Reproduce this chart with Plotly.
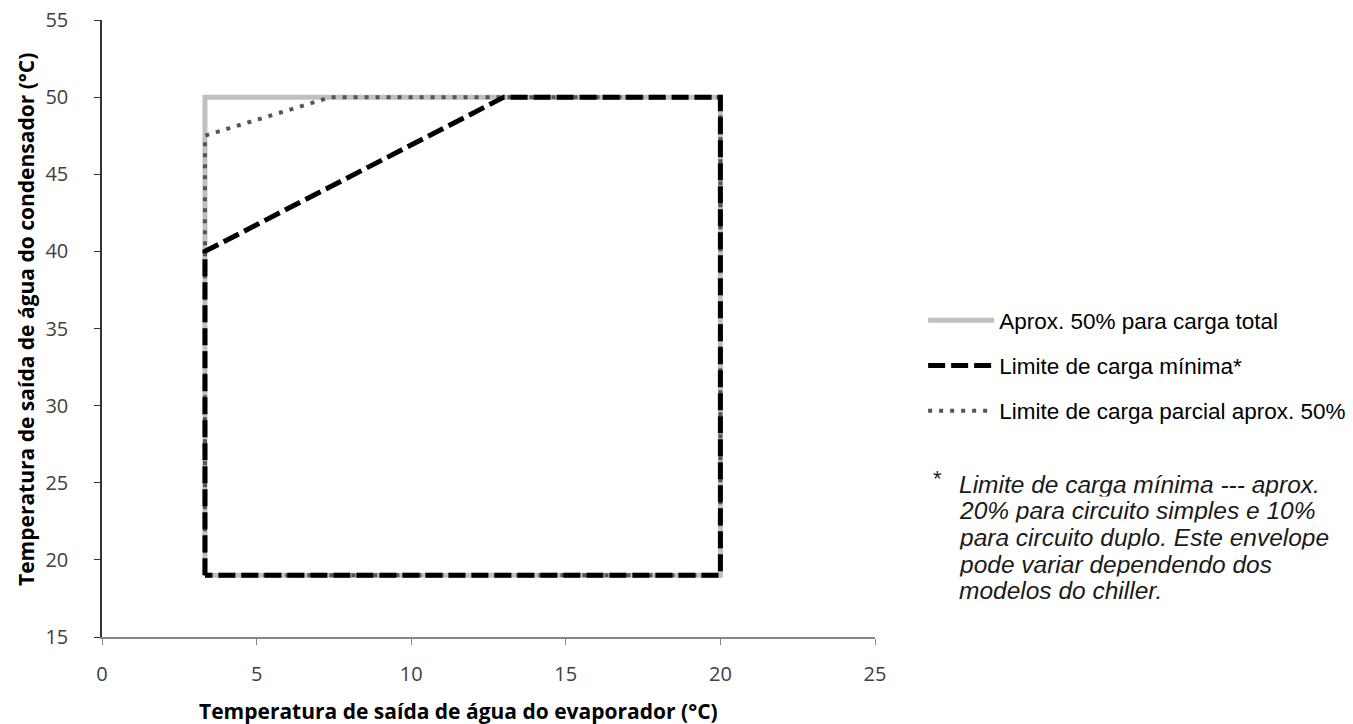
import plotly.graph_objects as go

# Envelope data (evaporator leaving water temp, condenser leaving water temp)
full_x = [3.33, 3.33, 20, 20, 3.33]
full_y = [19, 50, 50, 19, 19]

min_x = [3.33, 3.33, 13, 20, 20, 3.33]
min_y = [19, 40, 50, 50, 19, 19]

part_x = [3.33, 3.33, 7.4, 20, 20, 3.33]
part_y = [19, 47.5, 50, 50, 19, 19]

names = ["Aprox. 50% para carga total", "Limite de carga mínima*",
         "Limite de carga parcial aprox. 50%"]

x_ticks = [0, 5, 10, 15, 20, 25]
y_ticks = [15, 20, 25, 30, 35, 40, 45, 50, 55]

footnote_lines = [
    "Limite de carga mínima --- aprox.",
    "20% para circuito simples e 10%",
    "para circuito duplo. Este envelope",
    "pode variar dependendo dos",
    "modelos do chiller.",
]

L, R, T, B = 102, 478, 20, 87
W, H = 1353, 724
PW, PH = W - L - R, H - T - B


def px(xp):
    return (xp - L) / PW


def py(yp):
    return (H - B - yp) / PH


fig = go.Figure()
fig.add_trace(go.Scatter(x=full_x, y=full_y, mode="lines", name=names[0],
                         line=dict(color="#c0c0c0", width=5),
                         legendrank=1, legendgroup="a"))
fig.add_trace(go.Scatter(x=part_x, y=part_y, mode="lines", name=names[2],
                         line=dict(color="#555555", width=4, dash="4px,7px"),
                         legendrank=3, legendgroup="c"))
fig.add_trace(go.Scatter(x=min_x, y=min_y, mode="lines", name=names[1],
                         line=dict(color="#000000", width=5, dash="17px,6px"),
                         legendrank=2, legendgroup="b"))

tick_font = dict(family="Open Sans", size=20, color="#404040")
title_font = dict(family="Open Sans", size=21, color="#000000")

fig.update_layout(
    width=W, height=H,
    margin=dict(l=L, r=R, t=T, b=B, autoexpand=False),
    paper_bgcolor="white", plot_bgcolor="white",
    showlegend=True,
    legend=dict(x=px(927) - 0.005, y=py(299), xanchor="left", yanchor="top",
                font=dict(family="Liberation Sans", size=22.5, color="#000000"),
                tracegroupgap=13, itemwidth=66, bgcolor="rgba(0,0,0,0)"),
    xaxis=dict(range=[0, 25], tickvals=x_ticks, showgrid=False, zeroline=False,
               showline=True, linecolor="#868686", linewidth=1.5,
               ticks="outside", ticklen=6, tickcolor="#868686",
               tickfont=tick_font, ticklabelstandoff=12),
    yaxis=dict(range=[15, 55], tickvals=y_ticks, showgrid=False, zeroline=False,
               showline=True, linecolor="#333333", linewidth=1.5,
               ticks="outside", ticklen=6, tickcolor="#333333",
               tickfont=tick_font, ticklabelstandoff=22),
)

fig.add_annotation(text="<b>Temperatura de saída de água do evaporador (°C)</b>",
                   xref="paper", yref="paper", x=px(458), y=py(711),
                   xanchor="center", yanchor="middle", showarrow=False,
                   font=title_font)
fig.add_annotation(text="<b>Temperatura de saída de água do condensador (°C)</b>",
                   xref="paper", yref="paper", x=px(26), y=py(320),
                   xanchor="center", yanchor="middle", textangle=-90,
                   showarrow=False, font=title_font)

foot_font = dict(family="Liberation Sans", size=24.5, color="#1a1a1a")
fig.add_annotation(text="*", xref="paper", yref="paper",
                   x=px(931), y=py(478),
                   xanchor="left", yanchor="middle", showarrow=False,
                   font=dict(family="Liberation Sans", size=22, color="#1a1a1a"))
for i, line in enumerate(footnote_lines):
    ypix = 484 + i * 26.7
    fig.add_annotation(text="<i>" + line + "</i>", xref="paper", yref="paper",
                       x=px(957), y=py(ypix), height=24.5, valign="middle",
                       xanchor="left", yanchor="middle", showarrow=False,
                       font=foot_font)

fig.write_html("out.html",
               config={"displayModeBar": False},
               post_script="document.body.style.margin='0';"
                           "document.body.style.overflow='hidden';")
